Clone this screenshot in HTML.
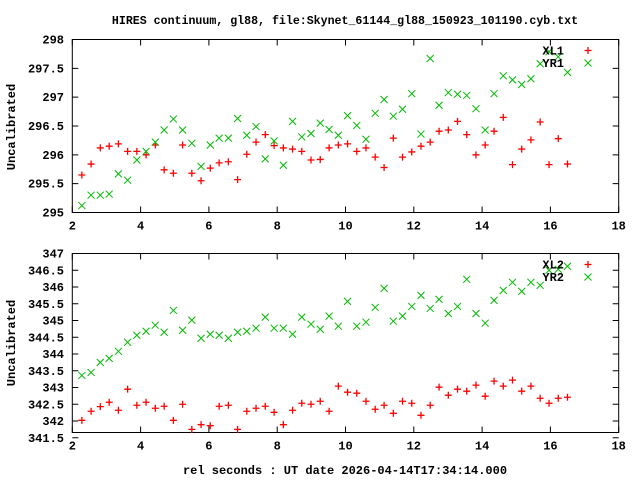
<!DOCTYPE html>
<html><head><meta charset="utf-8"><style>
body{margin:0;background:#fff}
svg{display:block}
text{font-family:"Liberation Mono",monospace;font-size:12px;font-weight:bold;fill:#000}
</style></head><body>
<svg id="chart" width="640" height="480" viewBox="0 0 640 480" xmlns="http://www.w3.org/2000/svg">
<text x="345" y="24" text-anchor="middle" style="font-size:11.6px">HIRES continuum, gl88, file:Skynet_61144_gl88_150923_101190.cyb.txt</text>
<text x="345" y="474" text-anchor="middle">rel seconds : UT date 2026-04-14T17:34:14.000</text>
<text transform="translate(15,127) rotate(-90)" text-anchor="middle">Uncalibrated</text>
<text transform="translate(15,343) rotate(-90)" text-anchor="middle">Uncalibrated</text>
<g id="layer"></g>
</svg>
<script>
const xs=[2.28,2.55,2.82,3.08,3.35,3.62,3.89,4.16,4.43,4.69,4.96,5.23,5.50,5.77,6.04,6.30,6.57,6.84,7.11,7.38,7.65,7.91,8.18,8.45,8.72,8.99,9.26,9.52,9.79,10.06,10.33,10.60,10.87,11.13,11.40,11.67,11.94,12.21,12.48,12.74,13.01,13.28,13.55,13.82,14.09,14.35,14.62,14.89,15.16,15.43,15.70,15.96,16.23,16.50];
const xl1=[295.65,295.84,296.12,296.15,296.19,296.06,296.06,296.0,296.17,295.74,295.68,296.17,295.68,295.55,295.77,295.86,295.88,295.57,296.01,296.22,296.35,296.16,296.12,296.10,296.06,295.91,295.92,296.12,296.17,296.19,296.06,296.12,295.96,295.78,296.29,295.96,296.05,296.15,296.22,296.41,296.43,296.58,296.35,296.0,296.17,296.41,296.65,295.83,296.10,296.26,296.57,295.83,296.28,295.84];
const yr1=[295.12,295.30,295.30,295.32,295.67,295.56,295.91,296.06,296.22,296.43,296.62,296.43,296.20,295.80,296.17,296.29,296.29,296.63,296.34,296.49,295.93,296.24,295.82,296.58,296.31,296.37,296.55,296.44,296.34,296.68,296.51,296.27,296.72,296.96,296.67,296.79,297.06,296.36,297.67,296.86,297.08,297.05,297.03,296.80,296.43,297.06,297.37,297.30,297.22,297.32,297.58,297.79,297.70,297.43];
const xl2=[342.02,342.29,342.43,342.56,342.32,342.95,342.47,342.56,342.38,342.44,342.02,342.50,341.75,341.89,341.86,342.44,342.47,341.75,342.29,342.38,342.44,342.26,341.89,342.32,342.53,342.50,342.59,342.29,343.04,342.86,342.83,342.59,342.35,342.47,342.23,342.59,342.53,342.17,342.47,343.01,342.77,342.95,342.89,343.07,342.74,343.19,343.04,343.22,342.89,343.04,342.68,342.53,342.68,342.71];
const yr2=[343.36,343.45,343.75,343.87,344.08,344.35,344.56,344.68,344.86,344.65,345.30,344.71,345.01,344.47,344.59,344.56,344.47,344.65,344.68,344.77,345.10,344.77,344.77,344.59,345.10,344.89,344.74,345.13,344.83,345.57,344.83,344.95,345.39,345.96,344.98,345.13,345.42,345.75,345.36,345.63,345.21,345.42,346.23,345.21,344.92,345.60,345.90,346.14,345.87,346.14,346.05,346.50,346.53,346.62];
const xTicks=[2,4,6,8,10,12,14,16,18];
const topYTicks=[295,295.5,296,296.5,297,297.5,298];
const topYLabels=["295","295.5","296","296.5","297","297.5","298"];
const botYTicks=[341.5,342,342.5,343,343.5,344,344.5,345,345.5,346,346.5,347];
const botYLabels=["341.5","342","342.5","343","343.5","344","344.5","345","345.5","346","346.5","347"];

const NS='http://www.w3.org/2000/svg';
const layer=document.getElementById('layer');
const X0=72.3,X1=618.7;
function sx(v){return X0+(v-2)*(X1-X0)/16;}
function mk(tag,attrs){const e=document.createElementNS(NS,tag);for(const k in attrs)e.setAttribute(k,attrs[k]);layer.appendChild(e);return e;}
function plus(x,y,c){return mk('path',{d:`M${x-3.5},${y}H${x+3.5}M${x},${y-3.5}V${y+3.5}`,stroke:c,'stroke-width':1.3,fill:'none'});}
function cross(x,y,c){return mk('path',{d:`M${x-3.5},${y-3.5}L${x+3.5},${y+3.5}M${x-3.5},${y+3.5}L${x+3.5},${y-3.5}`,stroke:c,'stroke-width':1,fill:'none'});}

function panel(name,top,bottom,ymin,ymax,yt,yl,series,legend){
  const sy=v=>bottom-(v-ymin)*(bottom-top)/(ymax-ymin);
  const f=mk('rect',{x:X0,y:top,width:X1-X0,height:bottom-top,fill:'none',stroke:'#000','stroke-width':1});
  
  
  xTicks.forEach(t=>{
    const x=sx(t);
    mk('path',{d:`M${x},${bottom}v-6M${x},${top}v6`,stroke:'#000','stroke-width':1});
    const tx=mk('text',{x:x,y:bottom+17,'text-anchor':'middle'});tx.textContent=t;
    
    
  });
  yt.forEach((t,i)=>{
    const y=sy(t);
    mk('path',{d:`M${X0},${y}h6M${X1},${y}h-6`,stroke:'#000','stroke-width':1});
    const tx=mk('text',{x:64,y:y+4,'text-anchor':'end'});tx.textContent=yl[i];
    
    
  });
  series.forEach(s=>{
    s.x.forEach((xv,i)=>{
      const m=s.type==='plus'?plus(sx(xv),sy(s.y[i]),s.c):cross(sx(xv),sy(s.y[i]),s.c);
      
      
    });
  });
  legend.forEach((l,i)=>{
    const y=top+11+i*12.5;
    const t=mk('text',{x:564,y:y+4,'text-anchor':'end'});t.textContent=l.label;
    
    
    const m=l.type==='plus'?plus(588,y,l.c):cross(588,y,l.c);
    
    
  });
}
panel('top-panel',39.5,212.5,295,298,topYTicks,topYLabels,[
  {name:'xl1',x:xs,y:xl1,c:'#f00',type:'plus'},
  {name:'yr1',x:xs,y:yr1,c:'#0b0',type:'cross'}],
  [{label:'XL1',c:'#f00',type:'plus'},{label:'YR1',c:'#0b0',type:'cross'}]);
panel('bottom-panel',253.5,432.5,347-(432.5-253.5)/33.5,347,botYTicks,botYLabels,[
  {name:'xl2',x:xs,y:xl2,c:'#f00',type:'plus'},
  {name:'yr2',x:xs,y:yr2,c:'#0b0',type:'cross'}],
  [{label:'XL2',c:'#f00',type:'plus'},{label:'YR2',c:'#0b0',type:'cross'}]);
</script>
</body></html>
